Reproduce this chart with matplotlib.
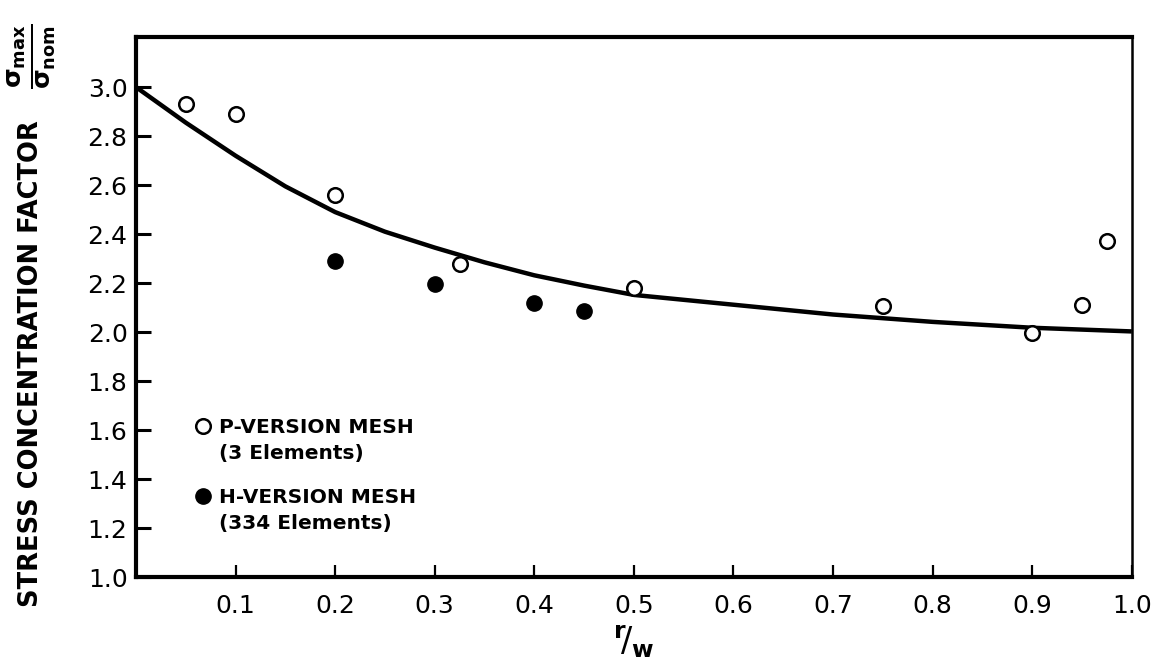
import matplotlib
matplotlib.use("Agg")
import matplotlib.pyplot as plt
from matplotlib.lines import Line2D

# ---- data ----
p_x = [0.05, 0.10, 0.20, 0.325, 0.50, 0.75, 0.90, 0.95, 0.975]
p_y = [2.93, 2.89, 2.56, 2.28, 2.18, 2.105, 1.997, 2.11, 2.37]

h_x = [0.20, 0.30, 0.40, 0.45]
h_y = [2.29, 2.197, 2.12, 2.087]

curve_x = [0.0, 0.05, 0.10, 0.15, 0.20, 0.25, 0.30, 0.35, 0.40, 0.45, 0.50,
           0.60, 0.70, 0.80, 0.90, 1.0]
curve_y = [3.00, 2.855, 2.72, 2.595, 2.49, 2.41, 2.345, 2.285, 2.232, 2.19,
           2.152, 2.112, 2.072, 2.042, 2.018, 2.003]

x_ticks = [0.1, 0.2, 0.3, 0.4, 0.5, 0.6, 0.7, 0.8, 0.9, 1.0]
x_tick_labels = ["0.1", "0.2", "0.3", "0.4", "0.5", "0.6", "0.7", "0.8", "0.9", "1.0"]
y_ticks = [1.0, 1.2, 1.4, 1.6, 1.8, 2.0, 2.2, 2.4, 2.6, 2.8, 3.0]
y_tick_labels = ["1.0", "1.2", "1.4", "1.6", "1.8", "2.0", "2.2", "2.4", "2.6", "2.8", "3.0"]

p_labels = ["P-VERSION MESH", "(3 Elements)"]
h_labels = ["H-VERSION MESH", "(334 Elements)"]

# ---- figure ----
plt.rcParams["font.family"] = ["DejaVu Sans"]
fig = plt.figure(figsize=(11.62, 6.62), dpi=100)
ax = fig.add_axes([0.117, 0.128, 0.857, 0.816])

ax.plot(curve_x, curve_y, color="black", lw=3.2, solid_capstyle="butt",
        solid_joinstyle="round", zorder=2)
p_line, = ax.plot(p_x, p_y, linestyle="none", marker="o", ms=10.5,
                  mfc="white", mec="black", mew=1.8, zorder=3)
h_line, = ax.plot(h_x, h_y, linestyle="none", marker="o", ms=11,
                  mfc="black", mec="black", zorder=3)

ax.set_xlim(0, 1.0)
ax.set_ylim(1.0, 3.204)

ax.set_xticks(x_ticks)
ax.set_xticklabels(x_tick_labels)
ax.set_yticks(y_ticks)
ax.set_yticklabels(y_tick_labels)
ax.tick_params(axis="x", direction="in", length=9, width=1.6, labelsize=18,
               pad=12)
ax.tick_params(axis="y", direction="in", length=11, width=2.2, labelsize=18,
               pad=6)

for side in ["left", "bottom", "top"]:
    ax.spines[side].set_linewidth(3.0)
ax.spines["right"].set_linewidth(1.8)

# axis titles
fig.text(0.027, 0.451, "STRESS CONCENTRATION FACTOR",
         rotation=90, ha="center", va="center", fontsize=18.5,
         fontweight="bold")
fig.text(0.027, 0.915, r"$\mathbf{\frac{\sigma_{max}}{\sigma_{nom}}}$",
         rotation=90, ha="center", va="center", fontsize=26)
ax.set_xlabel(r"$^{\mathbf{r}}\!/_{\mathbf{w}}$", fontsize=24, labelpad=4)

# legend
blank = Line2D([], [], linestyle="none", marker=None)
leg_kw = dict(loc="upper left", frameon=False, handlelength=0.6,
              handletextpad=0.5, labelspacing=0.35, borderaxespad=0,
              prop={"weight": "bold", "size": 14.5})
leg1 = ax.legend([p_line, blank], p_labels, bbox_to_anchor=(0.053, 0.31),
                 **leg_kw)
ax.add_artist(leg1)
leg2 = ax.legend([h_line, blank], h_labels, bbox_to_anchor=(0.053, 0.18),
                 **leg_kw)

fig.savefig("out.png", dpi=100)
